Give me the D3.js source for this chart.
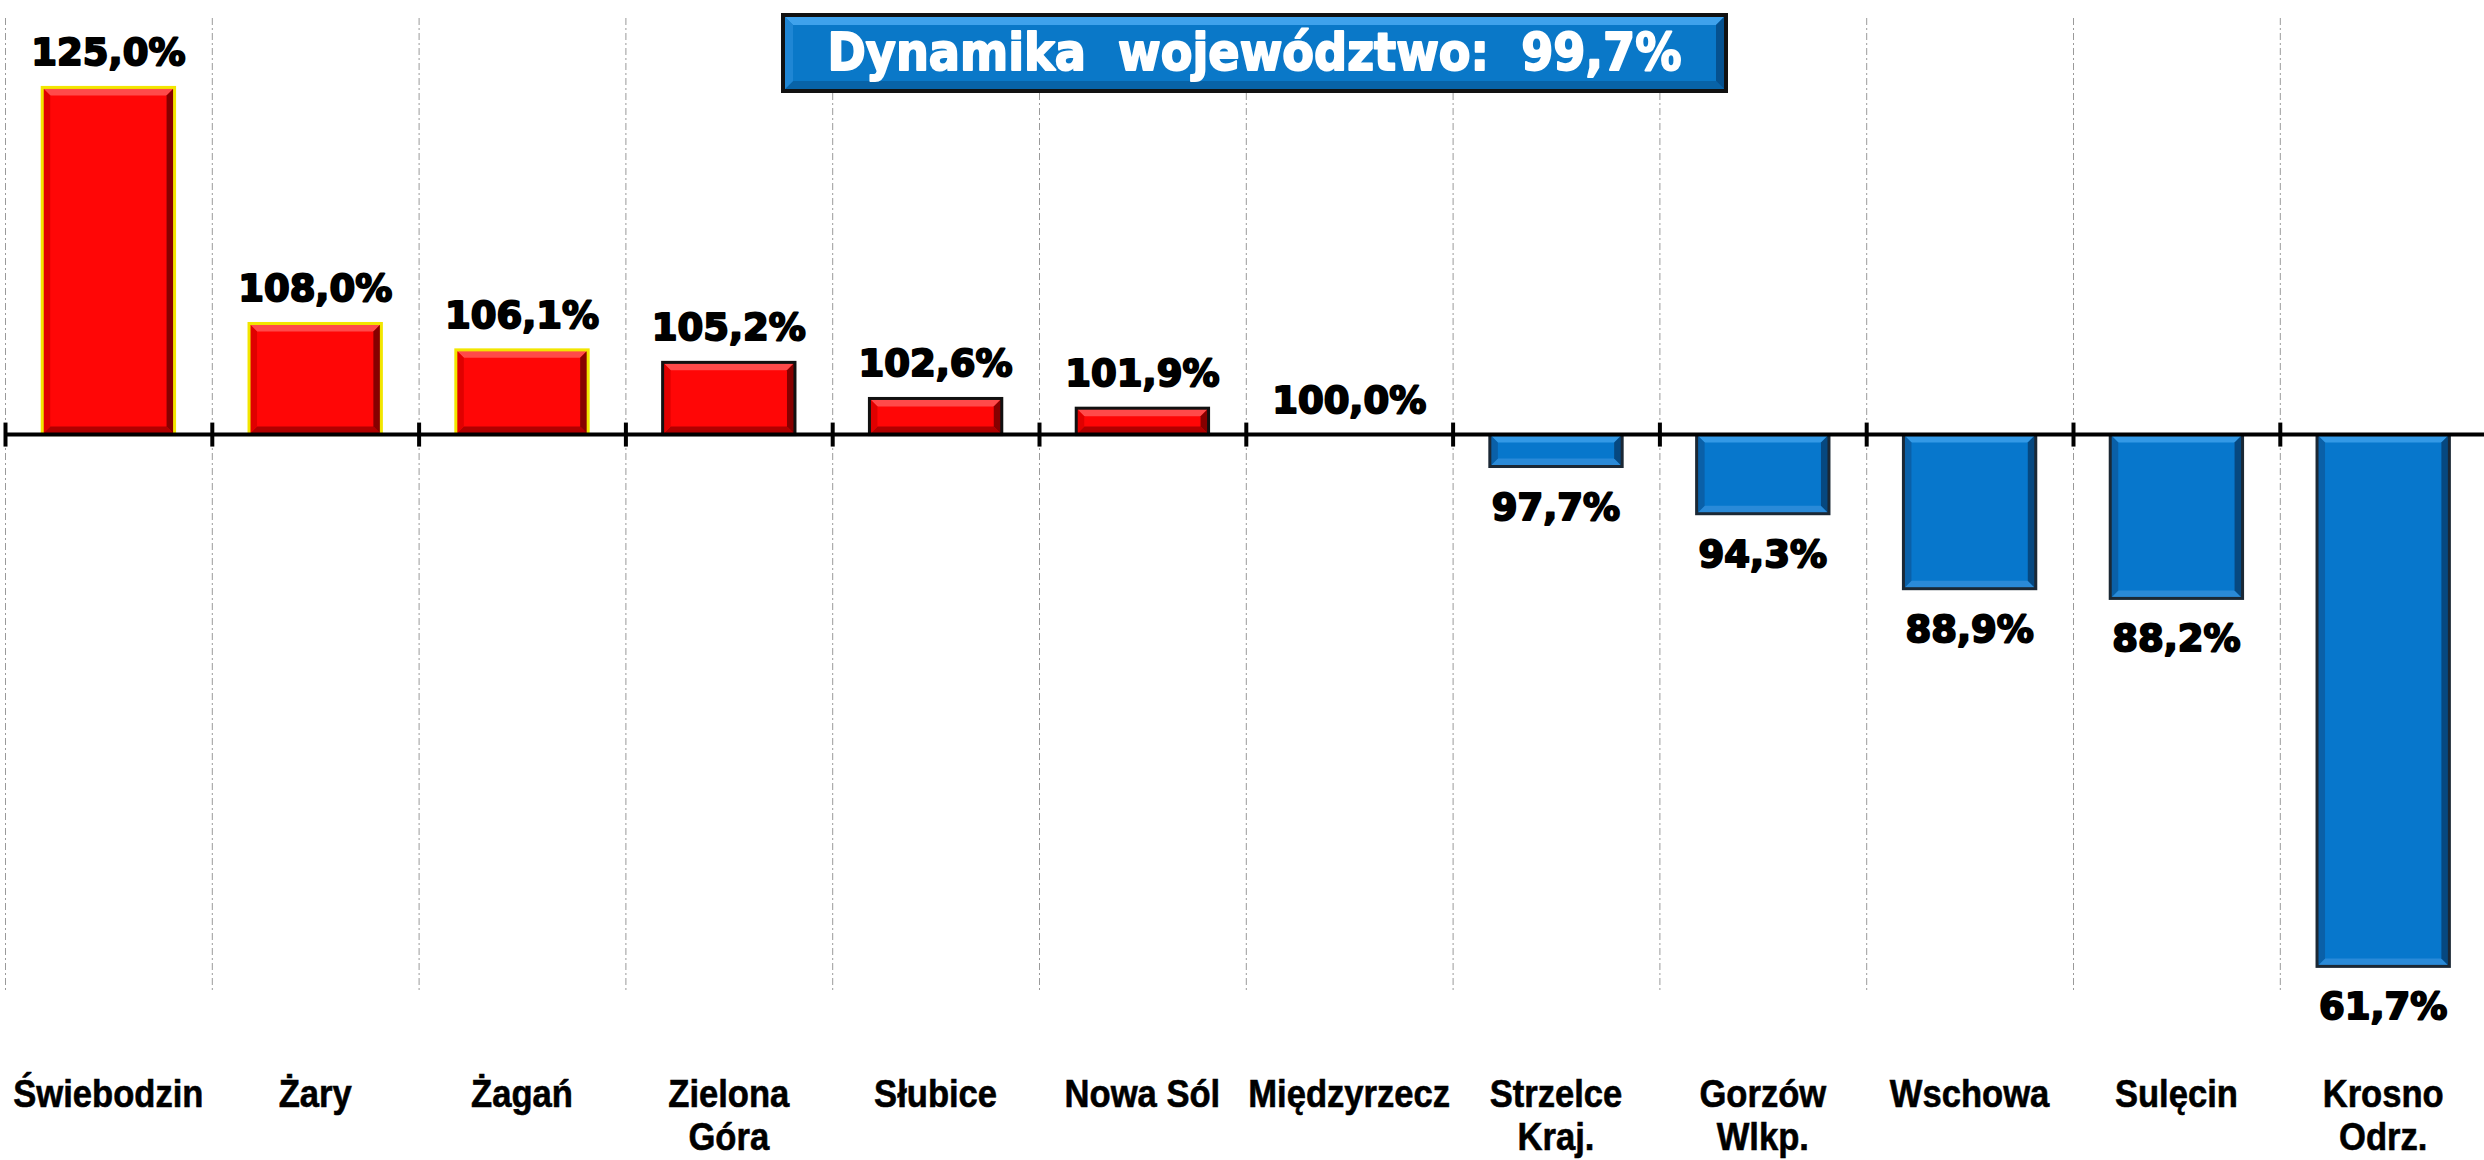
<!DOCTYPE html>
<html>
<head>
<meta charset="utf-8">
<script src="https://cdn.jsdelivr.net/npm/d3@7"></script>
<style>
  body { margin: 0; background: #fff; }
  svg { display: block; }
</style>
</head>
<body>
<script>
// data
const categories = ["Świebodzin", "Żary", "Żagań", "Zielona\nGóra", "Słubice", "Nowa Sól",
  "Międzyrzecz", "Strzelce\nKraj.", "Gorzów\nWlkp.", "Wschowa", "Sulęcin", "Krosno\nOdrz."];
const values = [125.0, 108.0, 106.1, 105.2, 102.6, 101.9, 100.0, 97.7, 94.3, 88.9, 88.2, 61.7];
const baseValue = 100;
const regionTitle = "Dynamika  województwo:";
const regionValue = 99.7;

const width = 2484, height = 1160;
const fmt = v => d3.format(".1f")(v).replace(".", ",") + "%";

const svg = d3.select("body").append("svg")
    .attr("width", width)
    .attr("height", height);

const x = d3.scaleBand()
    .domain(categories)
    .range([5, 5 + 12 * 206.8])
    .paddingInner(0.36)
    .paddingOuter(0.18);

const y = d3.scaleLinear()
    .domain([60, 130])
    .range([990, 18]);

const step = x.step();
const edge = d => x(d) - (step - x.bandwidth()) / 2;

// vertical dashed gridlines at category boundaries
svg.append("g")
  .selectAll("line")
  .data(categories)
  .join("line")
    .attr("x1", d => edge(d) + 0.5)
    .attr("x2", d => edge(d) + 0.5)
    .attr("y1", y.range()[1])
    .attr("y2", y.range()[0])
    .attr("stroke", "#9a9a9a")
    .attr("stroke-width", 1)
    .attr("stroke-dasharray", "7,3,2,3");

// bevelled bars
const redStyle = {fill: "#ff0606", top: "#ff4a4a", left: "#e00000", right: "#860000", bottom: "#b00000"};
const blueStyle = {fill: "#0777cc", top: "#3399e6", left: "#0a60a8", right: "#064880", bottom: "#2a8ad8"};

function bevel(g, x0, y0, w, h, s, stroke) {
  const x1 = x0 + w, y1 = y0 + h;
  const b = Math.min(8, h / 3.2, w / 3);
  g.append("rect")
      .attr("x", x0).attr("y", y0).attr("width", w).attr("height", h)
      .attr("fill", s.fill);
  const polys = [
    [s.top, [[x0, y0], [x1, y0], [x1 - b, y0 + b], [x0 + b, y0 + b]]],
    [s.bottom, [[x0, y1], [x1, y1], [x1 - b, y1 - b], [x0 + b, y1 - b]]],
    [s.left, [[x0, y0], [x0 + b, y0 + b], [x0 + b, y1 - b], [x0, y1]]],
    [s.right, [[x1, y0], [x1 - b, y0 + b], [x1 - b, y1 - b], [x1, y1]]]
  ];
  polys.forEach(([c, p]) => g.append("polygon").attr("points", p.join(" ")).attr("fill", c));
  g.append("rect")
      .attr("x", x0).attr("y", y0).attr("width", w).attr("height", h)
      .attr("fill", "none")
      .attr("stroke", stroke)
      .attr("stroke-width", 3);
}

const bars = svg.append("g");
categories.forEach((c, i) => {
  const v = values[i];
  if (v === baseValue) return;
  const y0 = Math.min(y(v), y(baseValue));
  const h = Math.abs(y(v) - y(baseValue));
  const up = v > baseValue;
  const stroke = up ? (i < 3 ? "#f2e600" : "#111") : "#1b2835";
  bevel(bars.append("g"), x(c), y0, x.bandwidth(), h, up ? redStyle : blueStyle, stroke);
});

// base line at 100% with ticks on boundaries
const axis = svg.append("g");
axis.append("line")
    .attr("x1", x.range()[0]).attr("x2", width)
    .attr("y1", y(baseValue)).attr("y2", y(baseValue))
    .attr("stroke", "#000").attr("stroke-width", 4);
axis.selectAll(".tick")
  .data(categories)
  .join("line")
    .attr("class", "tick")
    .attr("x1", d => edge(d) + 0.5).attr("x2", d => edge(d) + 0.5)
    .attr("y1", y(baseValue) - 12).attr("y2", y(baseValue) + 12)
    .attr("stroke", "#000").attr("stroke-width", 4);

// value labels
svg.append("g")
  .selectAll("text")
  .data(categories)
  .join("text")
    .attr("x", d => x(d) + x.bandwidth() / 2)
    .attr("y", (d, i) => values[i] >= baseValue ? y(values[i]) - 22 : y(values[i]) + 53)
    .attr("text-anchor", "middle")
    .style("font-family", "'Arial Black', 'DejaVu Sans', sans-serif")
    .style("font-weight", "bold")
    .style("font-size", "37px")
    .attr("fill", "#000")
    .attr("stroke", "#000")
    .attr("stroke-width", 2)
    .attr("stroke-linejoin", "round")
    .text((d, i) => fmt(values[i]));

// category labels
const catG = svg.append("g");
categories.forEach(c => {
  const t = catG.append("text")
      .attr("transform", `translate(${x(c) + x.bandwidth() / 2},1107) scale(0.91,1)`)
      .attr("text-anchor", "middle")
      .style("font-family", "Arial, 'Liberation Sans', sans-serif")
      .style("font-weight", "bold")
      .style("font-size", "38px")
      .attr("fill", "#000")
      .attr("stroke", "#000")
      .attr("stroke-width", 0.6);
  c.split("\n").forEach((line, k) => {
    t.append("tspan").attr("x", 0).attr("y", k * 43).text(line);
  });
});

// title box
const box = {x0: 781, y0: 13, x1: 1728, y1: 93};
const tb = svg.append("g");
tb.append("rect")
    .attr("x", box.x0).attr("y", box.y0)
    .attr("width", box.x1 - box.x0).attr("height", box.y1 - box.y0)
    .attr("fill", "#111");
bevel(tb.append("g"), box.x0 + 4, box.y0 + 4, box.x1 - box.x0 - 8, box.y1 - box.y0 - 8,
  {fill: "#0a78c8", top: "#3fa2ec", left: "#1f86d4", right: "#05518f", bottom: "#0863a8"}, "none");
tb.append("text")
    .attr("x", (box.x0 + box.x1) / 2)
    .attr("y", 70)
    .attr("text-anchor", "middle")
    .attr("textLength", 854)
    .attr("lengthAdjust", "spacingAndGlyphs")
    .style("white-space", "pre")
    .style("font-family", "'Arial Black', 'DejaVu Sans', sans-serif")
    .style("font-weight", "bold")
    .style("font-size", "52px")
    .attr("fill", "#fff")
    .attr("stroke", "#fff")
    .attr("stroke-width", 2)
    .attr("stroke-linejoin", "round")
    .text(regionTitle + "  " + fmt(regionValue));
</script>
</body>
</html>
